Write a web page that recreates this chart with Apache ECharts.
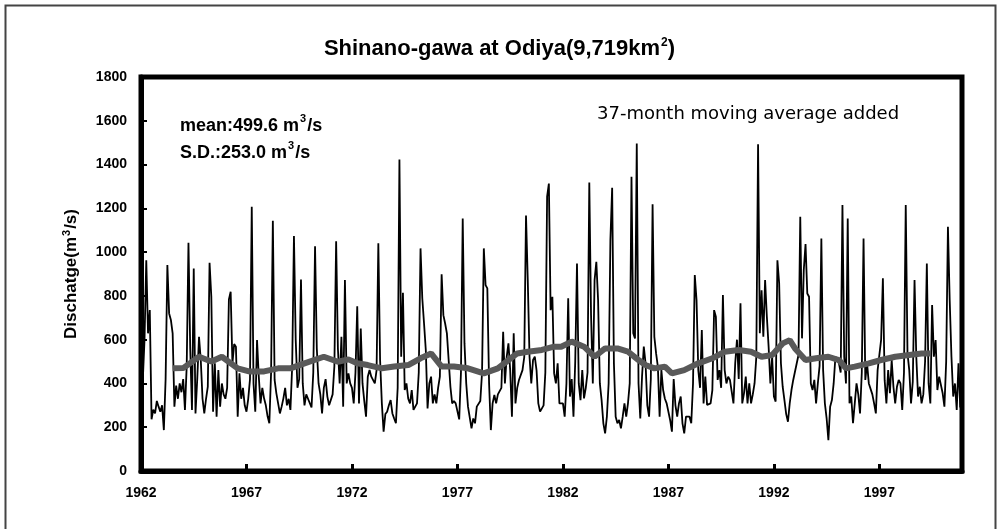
<!DOCTYPE html>
<html>
<head>
<meta charset="utf-8">
<script src="https://cdn.jsdelivr.net/npm/echarts@6/dist/echarts.min.js"></script>
<style>
  html, body { margin: 0; padding: 0; background: #fff; }
  #chart { width: 999px; height: 529px; }
</style>
</head>
<body>
<div id="chart"></div>
<script>
// first and last year of the monthly record
const firstYear = 1962;
const lastYear = 2000;

// monthly mean discharge (m3/s), one row per year, Jan..Dec
const discharge = [
  340, 410, 600, 963, 629, 735, 236, 280, 263, 320, 294, 271, // 1962
  300, 187, 420, 941, 720, 690, 629, 294, 390, 330, 400, 360, // 1963
  420, 279, 480, 1043, 560, 279, 925, 263, 420, 613, 507, 330, // 1964
  263, 330, 385, 951, 796, 271, 492, 248, 461, 294, 400, 350, // 1965
  330, 380, 784, 819, 492, 580, 568, 248, 446, 330, 380, 300, // 1966
  271, 330, 420, 1207, 400, 271, 598, 431, 309, 380, 332, 300, // 1967
  250, 218, 450, 1143, 416, 355, 309, 263, 294, 332, 380, 300, // 1968
  330, 279, 480, 1073, 600, 380, 420, 875, 400, 300, 350, 330, // 1969
  330, 290, 450, 1027, 560, 400, 350, 263, 380, 420, 340, 300, // 1970
  300, 350, 480, 1050, 560, 400, 613, 294, 872, 400, 446, 400, // 1971
  380, 309, 450, 753, 309, 651, 400, 320, 248, 431, 461, 431, // 1972
  431, 400, 461, 1040, 507, 309, 180, 260, 271, 300, 324, 263, // 1973
  240, 218, 380, 1423, 522, 814, 370, 400, 330, 309, 370, 279, // 1974
  279, 309, 450, 1017, 789, 674, 553, 286, 400, 431, 309, 350, // 1975
  309, 380, 431, 899, 712, 674, 629, 629, 385, 309, 320, 309, // 1976
  300, 236, 450, 1154, 583, 400, 294, 294, 195, 240, 218, 294, // 1977
  294, 320, 450, 1017, 849, 834, 400, 187, 309, 347, 309, 350, // 1978
  347, 380, 636, 400, 520, 583, 461, 248, 629, 309, 380, 416, // 1979
  416, 461, 520, 1167, 872, 522, 400, 507, 522, 460, 309, 271, // 1980
  271, 300, 450, 1253, 1313, 735, 796, 446, 400, 492, 309, 309, // 1981
  309, 248, 400, 789, 340, 420, 248, 500, 948, 400, 324, 461, // 1982
  332, 380, 450, 1318, 712, 400, 872, 956, 781, 400, 324, 218, // 1983
  172, 248, 400, 1055, 1294, 492, 248, 218, 233, 195, 248, 309, // 1984
  248, 309, 400, 1344, 629, 605, 1496, 400, 240, 431, 568, 492, // 1985
  300, 248, 420, 1219, 613, 537, 477, 248, 461, 370, 330, 309, // 1986
  309, 232, 180, 420, 300, 248, 309, 340, 218, 172, 248, 248, // 1987
  248, 218, 400, 895, 781, 461, 380, 644, 309, 431, 302, 309, // 1988
  309, 370, 735, 705, 416, 461, 380, 804, 461, 400, 431, 416, // 1989
  416, 309, 492, 600, 420, 766, 309, 355, 431, 309, 400, 309, // 1990
  350, 400, 520, 1493, 629, 826, 613, 872, 705, 568, 400, 522, // 1991
  340, 317, 963, 857, 492, 385, 324, 260, 225, 309, 370, 416, // 1992
  416, 492, 530, 1161, 606, 918, 1037, 811, 796, 400, 370, 416, // 1993
  309, 400, 480, 1062, 461, 309, 240, 141, 294, 324, 400, 522, // 1994
  522, 492, 450, 1215, 522, 400, 1154, 309, 340, 218, 309, 400, // 1995
  350, 263, 450, 1062, 416, 492, 400, 400, 350, 309, 263, 461, // 1996
  461, 600, 880, 415, 309, 461, 355, 507, 385, 309, 385, 416, // 1997
  400, 279, 450, 1215, 537, 461, 309, 408, 872, 522, 340, 385, // 1998
  309, 350, 500, 948, 400, 309, 758, 522, 598, 370, 431, 423, // 1999
  355, 294, 500, 1116, 781, 522, 340, 400, 279, 492, 290, 500  // 2000
];

// 37-month moving average at these month positions
const maMonth = [18, 24, 33, 40, 46, 55, 62, 70, 78, 85, 93, 104, 112, 118, 123, 129, 137, 144,
  152, 159, 165, 171, 178, 186, 195, 203, 209, 214, 220, 228, 235, 239, 245, 252, 258, 264,
  271, 277, 283, 287, 292, 298, 302, 309, 317, 325, 332, 340, 347, 353, 359, 365, 369, 372,
  378, 384, 391, 397, 401, 406, 414, 421, 429, 437, 444, 449];
const maValue = [469, 470, 522, 500, 522, 469, 454, 455, 469, 469, 492, 522, 499, 510, 492, 484, 469, 477,
  484, 515, 537, 477, 477, 469, 446, 469, 507, 537, 545, 553, 568, 568, 591, 568, 522, 560,
  560, 545, 507, 484, 469, 477, 446, 461, 492, 515, 545, 553, 545, 522, 530, 583, 598, 560,
  507, 515, 522, 507, 469, 477, 492, 507, 522, 530, 537, 537];

const yTicks = { min: 0, max: 1800, step: 200 };
const labelEvery = 60; // one x label every five years

let months = [];
for (let y = firstYear; y <= lastYear; y++) {
  for (let m = 1; m <= 12; m++) months.push(y + '-' + m);
}
let maData = maMonth.map((m, k) => [m, maValue[k]]);

const chart = echarts.init(document.getElementById('chart'));
const boldFont = { fontFamily: 'Liberation Sans', fontWeight: 'bold', color: '#000' };

chart.setOption({
  backgroundColor: '#fff',
  animation: false,
  title: {
    text: '{t|Shinano-gawa at Odiya(9,719km}{s|2}{t|)}',
    left: 'center',
    top: 32,
    textStyle: {
      rich: {
        t: { fontFamily: 'Liberation Sans', fontSize: 22, fontWeight: 'bold', color: '#000' },
        s: { fontFamily: 'Liberation Sans', fontSize: 12, fontWeight: 'bold', color: '#000', verticalAlign: 'top', padding: [0, 0, 12, 1] }
      }
    }
  },
  grid: { left: 141, right: 37, top: 77, bottom: 58, show: true, borderColor: '#000', borderWidth: 5, backgroundColor: '#fff' },
  xAxis: {
    type: 'category',
    data: months,
    boundaryGap: false,
    axisLine: { lineStyle: { color: '#000', width: 5 } },
    axisTick: { inside: true, length: 7, interval: labelEvery - 1, lineStyle: { color: '#000', width: 3 } },
    axisLabel: Object.assign({
      interval: labelEvery - 1, fontSize: 14, margin: 15,
      formatter: (v) => v.split('-')[0]
    }, boldFont),
    splitLine: { show: false }
  },
  yAxis: {
    type: 'value',
    min: yTicks.min, max: yTicks.max, interval: yTicks.step,
    name: '{n|Dischatge(m}{s|3}{n|/s)}',
    nameLocation: 'middle',
    nameGap: 60,
    nameRotate: 90,
    nameTextStyle: {
      rich: {
        n: { fontFamily: 'Liberation Sans', fontSize: 17, fontWeight: 'bold', color: '#000' },
        s: { fontFamily: 'Liberation Sans', fontSize: 11, fontWeight: 'bold', color: '#000', verticalAlign: 'top', padding: [0, 1, 9, 1] }
      }
    },
    axisLine: { show: true, lineStyle: { color: '#000', width: 5 } },
    axisTick: { show: true, inside: true, length: 6, lineStyle: { color: '#000', width: 2 } },
    axisLabel: Object.assign({ fontSize: 14, margin: 14, formatter: (v) => String(v) }, boldFont),
    splitLine: { show: false }
  },
  graphic: [
    { type: 'rect', left: 3, top: 3, shape: { width: 990, height: 540 }, style: { fill: null, stroke: '#444', lineWidth: 2 }, silent: true },
    {
      type: 'text', left: 180, top: 113,
      style: {
        text: '{a|mean:499.6 m}{s|3}{a|/s}\n{a|S.D.:253.0 m}{s|3}{a|/s}',
        rich: {
          a: { fontFamily: 'Liberation Sans', fontSize: 18, fontWeight: 'bold', fill: '#000', lineHeight: 27 },
          s: { fontFamily: 'Liberation Sans', fontSize: 11, fontWeight: 'bold', fill: '#000', verticalAlign: 'top', lineHeight: 27, padding: [0, 1, 12, 1] }
        }
      }
    },
    {
      type: 'text', left: 597, top: 105,
      style: { text: '37-month moving average added', font: '18px "DejaVu Sans"', fill: '#000' }
    }
  ],
  series: [
    {
      name: 'discharge',
      type: 'line',
      data: discharge,
      showSymbol: false,
      lineStyle: { color: '#000', width: 1.8 },
      z: 2
    },
    {
      name: '37-month moving average',
      type: 'line',
      data: maData,
      showSymbol: false,
      lineStyle: { color: '#595959', width: 6 },
      z: 3
    }
  ]
});
</script>
</body>
</html>
